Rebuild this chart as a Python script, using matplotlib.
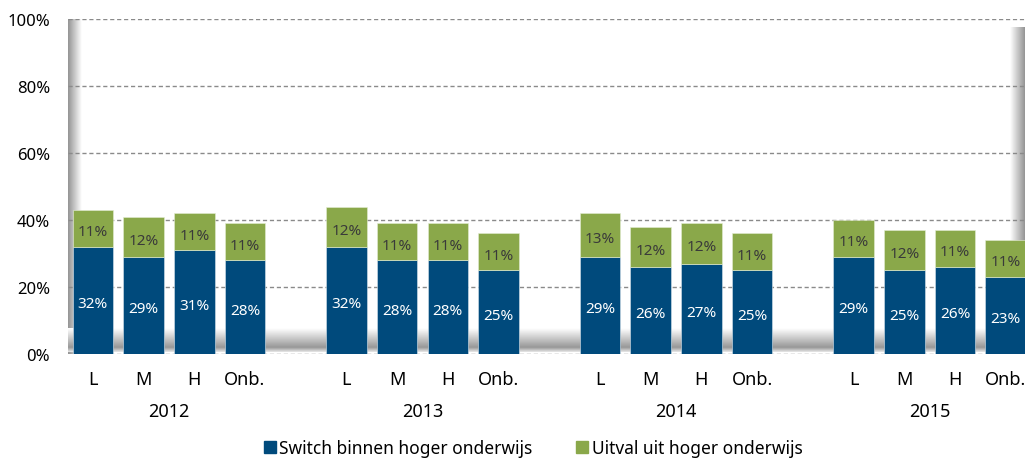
import numpy as np
import matplotlib.pyplot as plt
from matplotlib.patches import Patch
from matplotlib.transforms import blended_transform_factory

plt.rcParams["font.family"] = ["Noto Sans", "DejaVu Sans"]

years = ["2012", "2013", "2014", "2015"]
levels = ["L", "M", "H", "Onb."]
switch = [[32, 29, 31, 28],
          [32, 28, 28, 25],
          [29, 26, 27, 25],
          [29, 25, 26, 23]]
uitval = [[11, 12, 11, 11],
          [12, 11, 11, 11],
          [13, 12, 12, 11],
          [11, 12, 11, 11]]
series_names = ["Switch binnen hoger onderwijs", "Uitval uit hoger onderwijs"]

BLUE = "#004a7c"
GREEN = "#8aa84a"

fig = plt.figure(figsize=(10.25, 4.6), dpi=100)
ax = fig.add_axes([68 / 1025, 1 - 355 / 460, 1 - 68 / 1025, (355 - 20) / 460])

x0, x1 = -0.49, 18.38
ax.set_xlim(x0, x1)
ax.set_ylim(0, 100)

# shaded walls and floor of the plot area
px = (x1 - x0) / (1025 - 68)
wall = np.linspace(0.58, 1.0, 64)[None, :]
ax.imshow(wall, cmap="gray", vmin=0, vmax=1, aspect="auto",
          extent=(x0, x0 + 14 * px, 0, 100), zorder=0, interpolation="bilinear")
ax.imshow(wall[:, ::-1], cmap="gray", vmin=0, vmax=1, aspect="auto",
          extent=(x1 - 15 * px, x1, 0, 97.5), zorder=0, interpolation="bilinear")
floor = np.concatenate([np.linspace(1.0, 0.6, 40), np.linspace(0.6, 0.9, 10)])[:, None]
ax.imshow(floor, cmap="gray", vmin=0, vmax=1, aspect="auto",
          extent=(x0, x1, 0.6, 7.5), zorder=0, interpolation="bilinear")

for v in range(0, 101, 20):
    ax.axhline(v, color="#8a8a8a", lw=1, ls=(0, (3, 2)), zorder=1)

trans = blended_transform_factory(ax.transData, ax.transAxes)
for g, year in enumerate(years):
    pos = np.arange(4) + g * 5
    ax.bar(pos, switch[g], width=0.8, color=BLUE, edgecolor="#d8e4ec", lw=0.4, zorder=2)
    ax.bar(pos, uitval[g], width=0.8, bottom=switch[g], color=GREEN,
           edgecolor="#e4edd4", lw=0.4, zorder=2)
    for p, s, u, lev in zip(pos, switch[g], uitval[g], levels):
        ax.text(p, s / 2 - 1, f"{s}%", ha="center", va="center", color="white",
                fontsize=11, zorder=3)
        ax.text(p, s + u / 2 - 1, f"{u}%", ha="center", va="center", color="#3a3a3a",
                fontsize=11, zorder=3)
        ax.text(p, -0.075, lev, ha="center", va="center", fontsize=13, transform=trans)
    ax.text(pos.mean(), -0.17, year, ha="center", va="center", fontsize=13, transform=trans)

ax.set_yticks(range(0, 101, 20))
ax.set_yticklabels([f"{v}%" for v in range(0, 101, 20)], fontsize=12)
ax.set_xticks([])
ax.tick_params(axis="y", length=0, pad=13)
for sp in ax.spines.values():
    sp.set_visible(False)

handles = [Patch(color=BLUE), Patch(color=GREEN)]
fig.legend(handles, series_names, loc="center", bbox_to_anchor=(0.52, 0.024), ncol=2,
           frameon=False, fontsize=12.5, handlelength=0.7, handleheight=0.7,
           handletextpad=0.2, columnspacing=2.5)

fig.savefig("out.png", dpi=100)
